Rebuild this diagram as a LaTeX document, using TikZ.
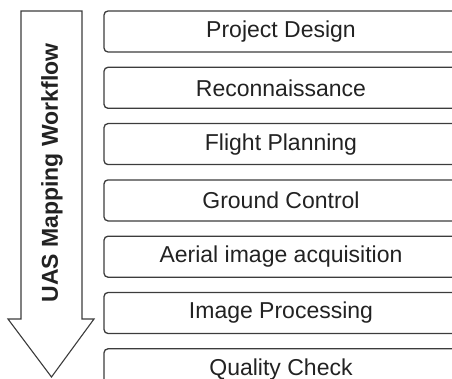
\documentclass[tikz,border=0pt]{standalone}
\usepackage{fontspec}
\setmainfont{Liberation Sans}
\usetikzlibrary{positioning}
\definecolor{linecolor}{HTML}{3C3C3C}
\definecolor{textcolor}{HTML}{222222}

\begin{document}
\begin{tikzpicture}[
    x=1pt, y=1pt,
    node distance=14pt,
    font=\fontsize{23}{27}\selectfont,
    stage/.style={draw=linecolor, rectangle, minimum width=354pt, minimum height=41pt, rounded corners=4pt, line width=1.3pt, text=textcolor, inner sep=0pt},
    flowarrow/.style={draw=linecolor, line width=1.1pt, line join=miter, fill=white},
    flowlabel/.style={font=\fontsize{23}{27}\selectfont\bfseries, text=textcolor, rotate=90}
]

    % page size of the reference
    \useasboundingbox (0, 0) rectangle (452, 378);
    \clip (0, 0) rectangle (452, 378);

    % =========================================================================
    % WORKFLOW ARROW
    % =========================================================================
    \draw [flowarrow] (21, 367) -- (82, 367) -- (82, 59) -- (94, 59) -- (51.5, 1)
        -- (8, 59) -- (21, 59) -- cycle;
    \node (flow_lbl) [flowlabel] at (52, 205) {UAS Mapping Workflow};

    % =========================================================================
    % STAGES
    % =========================================================================
    \node (design) [stage] at (281, 346.5) {Project Design};
    \node (recon) [stage, below=of design] {Reconnaissance};
    \node (planning) [stage, below=of recon] {Flight Planning};
    \node (gcp) [stage, below=of planning] {Ground Control};
    \node (acquisition) [stage, below=of gcp] {Aerial image acquisition};
    \node (processing) [stage, below=of acquisition] {Image Processing};
    \node (quality) [stage, below=of processing] {Quality Check};

\end{tikzpicture}
\end{document}
